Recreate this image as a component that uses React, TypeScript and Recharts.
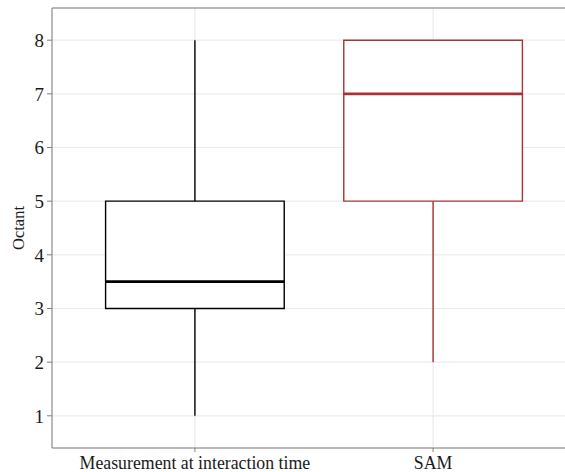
import {
  ComposedChart,
  Scatter,
  XAxis,
  YAxis,
  CartesianGrid,
  ReferenceArea,
  ReferenceLine,
} from 'recharts';

// Box plot summary per condition (Octant)
const categories = ['Measurement at interaction time', 'SAM'];
const positions = [1, 2];
const mins = [1, 2];
const q1s = [3, 5];
const medians = [3.5, 7];
const q3s = [5, 8];
const maxs = [8, 8];
const colors = ['#000000', '#a83236'];
const yTicks = [1, 2, 3, 4, 5, 6, 7, 8];

const BOX_HALF = 0.375;
const FONT = '"Liberation Serif", "Times New Roman", serif';
const AXIS_GRAY = '#7f7f7f';

const points = positions.map((x, i) => ({ x, y: medians[i] }));

const formatCategory = (v: number) => categories[positions.indexOf(v)] ?? '';

export default function App() {
  return (
    <div
      style={{
        position: 'absolute',
        left: 0,
        top: 0,
        width: 565,
        height: 472,
        overflow: 'hidden',
        background: '#fff',
      }}
    >
      <ComposedChart
        width={600}
        height={472}
        data={points}
        margin={{ top: 8, right: 24, left: 0, bottom: 0 }}
      >
        <CartesianGrid stroke="#ebebeb" strokeWidth={1.2} />
        <XAxis
          type="number"
          dataKey="x"
          domain={[0.4, 2.6]}
          ticks={positions}
          tickFormatter={formatCategory}
          height={24}
          stroke={AXIS_GRAY}
          tickSize={4}
          tick={{ fill: '#1a1a1a', fontSize: 17.8, fontFamily: FONT, dy: 2 }}
          interval={0}
          allowDataOverflow
        />
        <YAxis
          type="number"
          dataKey="y"
          domain={[0.4, 8.6]}
          ticks={yTicks}
          width={52}
          stroke={AXIS_GRAY}
          tickSize={5}
          tick={{ fill: '#1a1a1a', fontSize: 19, fontFamily: FONT, dx: -1 }}
          allowDataOverflow
          label={{
            value: 'Octant',
            angle: -90,
            position: 'insideLeft',
            offset: 18,
            style: { fill: '#1a1a1a', fontSize: 16.5, fontFamily: FONT, textAnchor: 'middle' },
          }}
        />
        {/* panel top border */}
        <ReferenceLine y={8.6} stroke={AXIS_GRAY} strokeWidth={1} />
        {positions.map((x, i) => (
          <ReferenceLine
            key={`lw${i}`}
            segment={[{ x, y: mins[i] }, { x, y: q1s[i] }]}
            stroke={colors[i]}
            strokeWidth={1.4}
          />
        ))}
        {positions.map((x, i) => (
          <ReferenceLine
            key={`uw${i}`}
            segment={[{ x, y: q3s[i] }, { x, y: maxs[i] }]}
            stroke={colors[i]}
            strokeWidth={1.4}
          />
        ))}
        {positions.map((x, i) => (
          <ReferenceArea
            key={`box${i}`}
            x1={x - BOX_HALF}
            x2={x + BOX_HALF}
            y1={q1s[i]}
            y2={q3s[i]}
            fill="#ffffff"
            fillOpacity={1}
            stroke={colors[i]}
            strokeWidth={1.4}
          />
        ))}
        {positions.map((x, i) => (
          <ReferenceLine
            key={`med${i}`}
            segment={[
              { x: x - BOX_HALF, y: medians[i] },
              { x: x + BOX_HALF, y: medians[i] },
            ]}
            stroke={colors[i]}
            strokeWidth={2.6}
          />
        ))}
        <Scatter dataKey="y" shape={() => null} isAnimationActive={false} />
      </ComposedChart>
    </div>
  );
}
